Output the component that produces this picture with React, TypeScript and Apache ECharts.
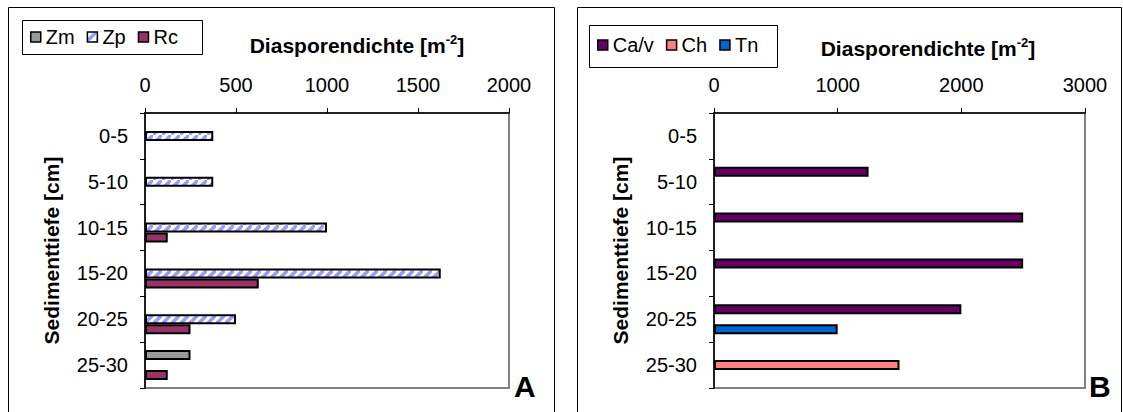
import React, { useEffect, useRef } from "react";
import * as echarts from "echarts";

const categories = ["0-5", "5-10", "10-15", "15-20", "20-25", "25-30"];

// Panel A
const axisMaxA = 2000;
const axisIntervalA = 500;
const zmValues = [null, null, null, null, null, 250];
const zpValues = [375, 375, 1000, 1625, 500, null];
const rcValues = [null, null, 125, 625, 250, 125];

// Panel B
const axisMaxB = 3000;
const axisIntervalB = 1000;
const cavValues = [null, 1250, 2500, 2500, 2000, null];
const chValues = [null, null, null, null, null, 1500];
const tnValues = [null, null, null, null, 1000, null];

const FONT = "'Liberation Sans', Arial, Helvetica, sans-serif";

function makeHatch() {
  const s = 9;
  const c = document.createElement("canvas");
  c.width = s;
  c.height = s;
  const ctx = c.getContext("2d")!;
  ctx.fillStyle = "#ffffff";
  ctx.fillRect(0, 0, s, s);
  ctx.strokeStyle = "#9999ff";
  ctx.lineWidth = 3.5;
  ctx.beginPath();
  ctx.moveTo(-2, s + 2);
  ctx.lineTo(s + 2, -2);
  ctx.moveTo(-2 - s, 2);
  ctx.lineTo(2, -s - 2);
  ctx.moveTo(s - 2, 2 * s + 2);
  ctx.lineTo(2 * s + 2, s - 2);
  ctx.stroke();
  return { image: c, repeat: "repeat", imageWidth: s, imageHeight: s } as any;
}

function xAxisCfg(gridIndex: number, max: number, interval: number) {
  return {
    gridIndex,
    type: "value",
    position: "top",
    min: 0,
    max,
    interval,
    axisLine: { show: true, lineStyle: { color: "#000", width: 1.5 } },
    axisTick: { show: true, inside: false, length: 5, lineStyle: { color: "#000", width: 1 } },
    axisLabel: {
      fontSize: 20,
      color: "#000",
      margin: 18,
      fontFamily: FONT,
      formatter: (v: number) => String(v),
    },
    splitLine: { show: false },
  };
}

function yAxisCfg(gridIndex: number) {
  return {
    gridIndex,
    type: "category",
    inverse: true,
    data: categories,
    axisLine: { show: true, lineStyle: { color: "#000", width: 1.5 } },
    axisTick: { show: true, inside: false, length: 5, lineStyle: { color: "#000", width: 1 } },
    axisLabel: { fontSize: 20, color: "#000", margin: 17, fontFamily: FONT },
    name: "Sedimenttiefe [cm]",
    nameLocation: "middle",
    nameGap: 83,
    nameTextStyle: { fontSize: 21, fontWeight: "bold", color: "#000", fontFamily: FONT },
    splitLine: { show: false },
  };
}

function barSeries(name: string, axisIdx: number, data: (number | null)[], color: any) {
  return {
    type: "bar",
    name,
    xAxisIndex: axisIdx,
    yAxisIndex: axisIdx,
    data,
    barWidth: 10,
    barGap: "0%",
    itemStyle: { color, borderColor: "#000", borderWidth: 2 },
    emphasis: { disabled: true },
  };
}

function titleText(cx: number, cy: number) {
  return {
    type: "text",
    x: cx,
    y: cy,
    style: {
      text: "{a|Diasporendichte [m}{s|-2}{a|]}",
      align: "center",
      verticalAlign: "middle",
      fill: "#000",
      rich: {
        a: { fontSize: 21, fontWeight: "bold", fontFamily: FONT, lineHeight: 24, fill: "#000" },
        s: { fontSize: 13, fontWeight: "bold", fontFamily: FONT, lineHeight: 14, verticalAlign: "top", fill: "#000" },
      },
    },
  };
}

export default function App() {
  const ref = useRef<HTMLDivElement>(null);
  useEffect(() => {
    if (!ref.current) return;
    const chart = echarts.init(ref.current, null, { renderer: "svg" });
    const hatch = makeHatch();
    const legendCommon = {
      itemWidth: 10,
      itemHeight: 10,
      itemGap: 12,
      padding: 0,
      icon: "rect",
      itemStyle: { borderColor: "#000", borderWidth: 1.5 },
      textStyle: { fontSize: 20, color: "#000", fontFamily: FONT },
      selectedMode: false,
    };
    chart.setOption({
      animation: false,
      backgroundColor: "#ffffff",
      grid: [
        { left: 145, top: 113, width: 364, height: 275, show: true, borderColor: "#808080", borderWidth: 2, backgroundColor: "transparent" },
        { left: 714, top: 113, width: 371, height: 275, show: true, borderColor: "#808080", borderWidth: 2, backgroundColor: "transparent" },
      ],
      xAxis: [xAxisCfg(0, axisMaxA, axisIntervalA), xAxisCfg(1, axisMaxB, axisIntervalB)],
      yAxis: [yAxisCfg(0), yAxisCfg(1)],
      legend: [
        { ...legendCommon, data: ["Zm", "Zp", "Rc"], left: 30, top: 27 },
        { ...legendCommon, data: ["Ca/v", "Ch", "Tn"], left: 597, top: 35 },
      ],
      series: [
        barSeries("Zm", 0, zmValues, "#999999"),
        barSeries("Zp", 0, zpValues, hatch),
        barSeries("Rc", 0, rcValues, "#993366"),
        barSeries("Ca/v", 1, cavValues, "#660066"),
        barSeries("Ch", 1, chValues, "#ff8080"),
        barSeries("Tn", 1, tnValues, "#0066cc"),
      ],
      graphic: [
        { type: "rect", silent: true, shape: { x: 8.5, y: 7.5, width: 546, height: 420 }, style: { fill: "none", stroke: "#000", lineWidth: 1 } },
        { type: "rect", silent: true, shape: { x: 577.5, y: 7.5, width: 544, height: 420 }, style: { fill: "none", stroke: "#000", lineWidth: 1 } },
        { type: "rect", silent: true, shape: { x: 22.5, y: 20.5, width: 180, height: 34 }, style: { fill: "none", stroke: "#000", lineWidth: 1 } },
        { type: "rect", silent: true, shape: { x: 589.5, y: 25.5, width: 188, height: 42 }, style: { fill: "none", stroke: "#000", lineWidth: 1 } },
        titleText(357, 45),
        titleText(928, 48),
        { type: "text", x: 514, y: 386, style: { text: "A", fontSize: 30, fontWeight: "bold", fontFamily: FONT, fill: "#000", verticalAlign: "middle" } },
        { type: "text", x: 1089, y: 386, style: { text: "B", fontSize: 30, fontWeight: "bold", fontFamily: FONT, fill: "#000", verticalAlign: "middle" } },
      ],
    });
    return () => chart.dispose();
  }, []);
  return <div ref={ref} style={{ position: "absolute", left: 0, top: 0, width: 1123, height: 412 }} />;
}
